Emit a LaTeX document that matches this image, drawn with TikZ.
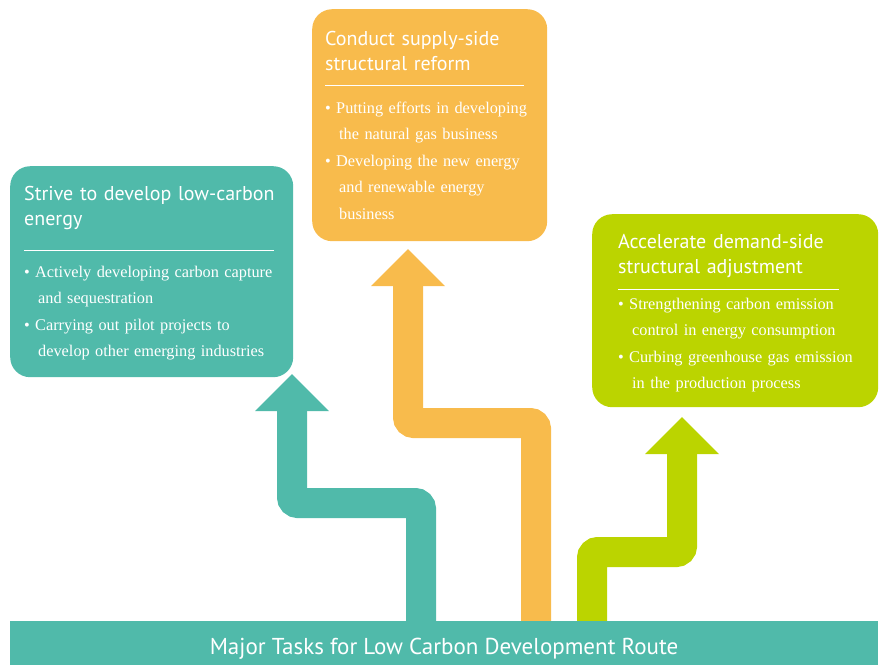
\documentclass[tikz,border=0pt]{standalone}
\usepackage{fontspec}
\setmainfont{Liberation Serif}
\setsansfont{PT Sans}
\usetikzlibrary{positioning,arrows.meta}

\definecolor{lowteal}{HTML}{50BAAA}
\definecolor{supplyorange}{HTML}{F8BB4C}
\definecolor{demandgreen}{HTML}{BBD400}

\tikzset{
	taskbox/.style={fill=#1,rounded corners=20pt,inner sep=0pt,anchor=north west},
	tasktitle/.style={anchor=base west,inner sep=0pt,text=white,text width=#1,
		font=\sffamily\fontsize{20}{25.5}\selectfont},
	taskitems/.style={anchor=base west,inner sep=0pt,text=white,text width=#1,
		font=\fontsize{16.3}{26.6}\selectfont},
	taskrule/.style={draw=white,line width=.8pt},
	route/.style={draw=#1,line width=30pt,rounded corners=6pt},
}
\newcommand\taskitem[1]{\noindent\hangindent=14pt\hangafter=1\makebox[11pt][l]{\textbullet}#1\par}

\begin{document}
\begin{tikzpicture}[x=1pt,y=-1pt,>={Triangle[length=37pt,width=74pt,line width=0pt]}]
	\useasboundingbox (0,0) rectangle (884,665);
	%routes first, the banner covers their feet
	\coordinate (strivefoot) at (421,630);
	\coordinate (strivetip) at (292,374);
	\coordinate (supplyfoot) at (536,630);
	\coordinate (supplytip) at (408,249);
	\coordinate (demandfoot) at (592,630);
	\coordinate (demandtip) at (682,417);
	\draw[route=lowteal,->] (strivefoot)--(421,503)--(292,503)--(strivetip);
	\draw[route=supplyorange,->] (supplyfoot)--(536,423)--(408,423)--(supplytip);
	\draw[route=demandgreen,->] (demandfoot)--(592,552)--(682,552)--(demandtip);
	%low-carbon
	\node[taskbox=lowteal,minimum width=283pt,minimum height=211pt] (strivebox) at (10,166) {};
	\node[tasktitle=268pt] (strivetitle) at (24,200) {Strive to develop low-carbon\\energy};
	\draw[taskrule] (24,250)--(274,250);
	\node[taskitems=268pt] (striveitems) at (24,277) {%
		\taskitem{Actively developing carbon capture\newline and sequestration}%
		\taskitem{Carrying out pilot projects to\newline develop other emerging industries}};
	%supply side
	\node[taskbox=supplyorange,minimum width=235pt,minimum height=232pt] (supplybox) at (312,9) {};
	\node[tasktitle=220pt] (supplytitle) at (325,45) {Conduct supply-side\\structural reform};
	\draw[taskrule] (325,85)--(524,85);
	\node[taskitems=220pt] (supplyitems) at (325,113) {%
		\taskitem{Putting efforts in developing\newline the natural gas business}%
		\taskitem{Developing the new energy\newline and renewable energy\newline business}};
	%demand side
	\node[taskbox=demandgreen,minimum width=286pt,minimum height=193pt] (demandbox) at (592,214) {};
	\node[tasktitle=255pt] (demandtitle) at (618,248) {Accelerate demand-side\\structural adjustment};
	\draw[taskrule] (618,289)--(839,289);
	\node[taskitems=255pt] (demanditems) at (618,309) {%
		\taskitem{Strengthening carbon emission\newline control in energy consumption}%
		\taskitem{Curbing greenhouse gas emission\newline in the production process}};
	%banner
	\node[fill=lowteal,anchor=north west,minimum width=868pt,minimum height=44pt,inner sep=0pt] (banner) at (10,621) {};
	\node[anchor=base,text=white,inner sep=0pt,font=\sffamily\fontsize{23}{27}\selectfont] (bannertext) at (444,654) {Major Tasks for Low Carbon Development Route};
\end{tikzpicture}
\end{document}
